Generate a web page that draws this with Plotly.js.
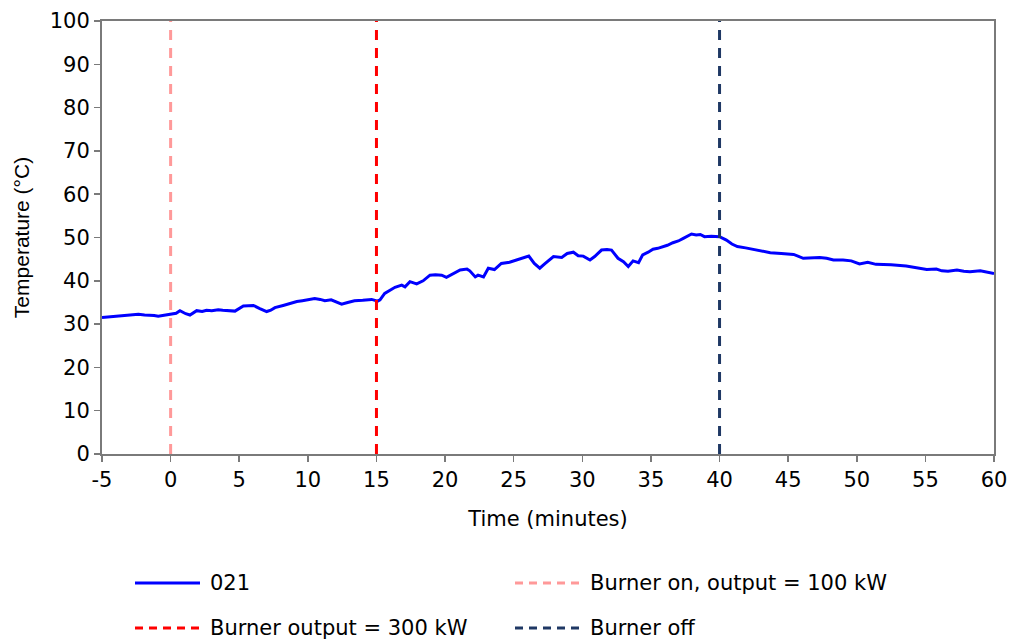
<!DOCTYPE html>
<html>
<head>
<meta charset="utf-8">
<script src="https://cdn.plot.ly/plotly-3.0.1.min.js"></script>
<style>html,body{margin:0;padding:0;background:#fff;}#chart{width:1012px;height:642px;}</style>
</head>
<body>
<div id="chart"></div>
<script>
// Time (minutes) and temperature (°C) for sensor 021
const timeMin = [-5, -4.6, -4.2, -3.7, -3.3, -2.8, -2.35, -1.9, -1.6, -1.2, -0.9, -0.4, 0.03, 0.4, 0.68, 1.1, 1.41, 1.9, 2.3, 2.62, 3.0, 3.47, 3.8, 4.2, 4.69, 5.3, 5.7, 6.03, 6.5, 7.0, 7.3, 7.6, 8.2, 8.82, 9.2, 9.6, 10.0, 10.5, 10.9, 11.24, 11.7, 12.1, 12.46, 12.9, 13.4, 14.0, 14.65, 15.09, 15.26, 15.6, 16.0, 16.35, 16.84, 17.08, 17.44, 17.93, 18.4, 18.9, 19.3, 19.75, 20.1, 20.6, 21.1, 21.6, 21.8, 22.2, 22.4, 22.8, 23.15, 23.6, 24.1, 24.7, 25.0, 25.4, 25.8, 26.1, 26.5, 26.9, 27.3, 27.9, 28.5, 28.9, 29.35, 29.7, 30.07, 30.56, 30.9, 31.4, 31.8, 32.13, 32.6, 33.0, 33.35, 33.7, 34.1, 34.4, 34.8, 35.15, 35.5, 35.9, 36.2, 36.6, 37.0, 37.36, 37.7, 37.96, 38.3, 38.6, 38.9, 39.4, 40.0, 40.5, 40.9, 41.3, 41.9, 42.46, 43.1, 43.7, 44.5, 45.4, 46.1, 46.8, 47.3, 47.8, 48.3, 49.0, 49.6, 50.2, 50.8, 51.4, 52.5, 53.6, 54.3, 55.1, 55.8, 56.2, 56.65, 57.3, 57.8, 58.25, 59.0, 59.5, 60.0];
const temp021 = [31.5, 31.6, 31.7, 31.8, 31.9, 32.1, 32.3, 32.1, 32.1, 32.0, 31.8, 32.1, 32.3, 32.5, 33.1, 32.4, 32.1, 33.1, 32.9, 33.2, 33.1, 33.3, 33.2, 33.1, 33.0, 34.2, 34.3, 34.3, 33.6, 32.9, 33.2, 33.8, 34.3, 34.9, 35.2, 35.4, 35.6, 35.9, 35.7, 35.4, 35.6, 35.1, 34.6, 35.0, 35.4, 35.5, 35.7, 35.3, 35.6, 37.1, 37.9, 38.5, 39.0, 38.6, 39.8, 39.3, 40.0, 41.3, 41.4, 41.3, 40.8, 41.7, 42.5, 42.7, 42.3, 40.9, 41.3, 40.9, 42.9, 42.6, 44.0, 44.3, 44.6, 45.0, 45.4, 45.7, 44.0, 42.9, 44.0, 45.6, 45.4, 46.3, 46.6, 45.8, 45.7, 44.8, 45.6, 47.1, 47.2, 47.1, 45.2, 44.4, 43.3, 44.6, 44.2, 46.0, 46.6, 47.3, 47.5, 47.9, 48.2, 48.8, 49.2, 49.8, 50.3, 50.8, 50.6, 50.7, 50.2, 50.3, 50.2, 49.4, 48.5, 47.9, 47.6, 47.3, 46.9, 46.5, 46.3, 46.1, 45.2, 45.4, 45.4, 45.2, 44.8, 44.8, 44.6, 43.9, 44.3, 43.8, 43.7, 43.4, 43.1, 42.6, 42.7, 42.3, 42.2, 42.5, 42.2, 42.1, 42.3, 42.0, 41.7];

// Burner events (minutes)
const eventTimes = [0, 15, 40];
const eventNames = ["Burner on, output = 100 kW", "Burner output = 300 kW", "Burner off"];
const eventColors = ["#ff9999", "#ff0000", "#1f3864"];
const seriesName = "021";

const xTicks = [-5, 0, 5, 10, 15, 20, 25, 30, 35, 40, 45, 50, 55, 60];
const yTicks = [0, 10, 20, 30, 40, 50, 60, 70, 80, 90, 100];

const FONT_H = "DejaVu Sans, Arial, sans-serif";
const FONT_V = "Liberation Sans, Arial, sans-serif";
const DASH = "10px,8px";

const traces = [{
  x: timeMin, y: temp021, type: "scatter", mode: "lines", name: seriesName,
  line: {color: "#0000ff", width: 3}, showlegend: false
}];
eventTimes.forEach((t, i) => {
  traces.push({
    x: [t, t], y: [0, 100], type: "scatter", mode: "lines", name: eventNames[i],
    line: {color: eventColors[i], width: 3, dash: DASH}, showlegend: false
  });
});

// Manual legend (paper coordinates) to match the reference layout
const legendItems = [
  {name: seriesName, color: "#0000ff", dash: "solid"},
  {name: eventNames[0], color: eventColors[0], dash: "8px,6px"},
  {name: eventNames[1], color: eventColors[1], dash: "8px,6px"},
  {name: eventNames[2], color: eventColors[2], dash: "8px,6px"}
];
const plotL = 102, plotW = 892, plotT = 21, plotH = 433;
const px2x = p => (p - plotL) / plotW;
const py2y = p => (plotT + plotH - p) / plotH;
const colX = [135, 515];
const rowY = [583, 628];
const shapes = [], annotations = [];
legendItems.forEach((it, i) => {
  const cx = colX[i % 2], cy = rowY[Math.floor(i / 2)];
  shapes.push({type: "line", xref: "paper", yref: "paper",
    x0: px2x(cx), x1: px2x(cx + 65), y0: py2y(cy), y1: py2y(cy),
    line: {color: it.color, width: 3, dash: it.dash}});
  annotations.push({xref: "paper", yref: "paper", x: px2x(cx + 73), y: py2y(cy),
    xanchor: "left", yanchor: "middle", showarrow: false, text: it.name,
    font: {family: FONT_H, size: 21, color: "#000"}});
});

const axisCommon = {
  showline: true, linecolor: "#7a7a7a", linewidth: 2, mirror: true,
  ticks: "outside", ticklen: 6, tickwidth: 1.5, tickcolor: "#7a7a7a",
  showgrid: false, zeroline: false,
  tickfont: {family: FONT_H, size: 21, color: "#000"}
};

const layout = {
  width: 1012, height: 642,
  margin: {l: 102, r: 18, t: 21, b: 188},
  paper_bgcolor: "#fff", plot_bgcolor: "#fff",
  showlegend: false,
  font: {family: FONT_H, size: 21, color: "#000"},
  xaxis: Object.assign({}, axisCommon, {
    range: [-5, 60], tickvals: xTicks, ticktext: xTicks.map(String),
    title: {text: "Time (minutes)", font: {family: FONT_H, size: 21, color: "#000"}, standoff: 20}
  }),
  yaxis: Object.assign({}, axisCommon, {
    range: [0, 100], tickvals: yTicks, ticktext: yTicks.map(String),
    title: {text: "Temperature (°C)", font: {family: FONT_V, size: 21, color: "#000"}, standoff: 14}
  }),
  shapes: shapes,
  annotations: annotations
};

Plotly.newPlot("chart", traces, layout, {displayModeBar: false, staticPlot: true});
</script>
</body>
</html>
